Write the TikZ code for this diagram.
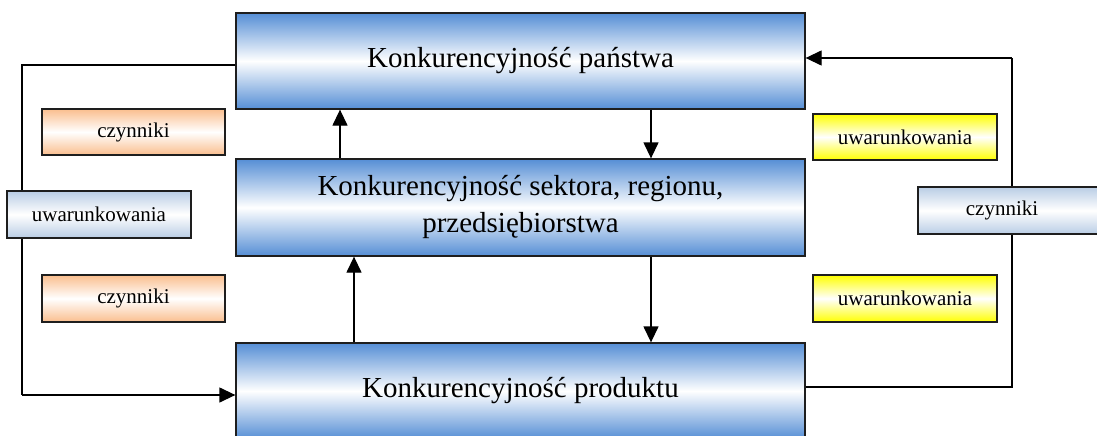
\documentclass[tikz,border=0pt]{standalone}
\usepackage{fontspec}
\setmainfont{Liberation Serif}
\usetikzlibrary{arrows.meta}
\definecolor{boxblue}{RGB}{85,142,213}
\definecolor{paleblue}{RGB}{185,205,229}
\definecolor{peach}{RGB}{250,190,142}
\definecolor{lemon}{RGB}{255,255,0}
\definecolor{edge}{RGB}{30,30,30}
\tikzset{
  mainbox/.style={draw=edge, line width=1.3pt, rectangle, inner sep=0pt,
    minimum width=569pt, minimum height=96pt, align=center,
    font=\fontsize{29}{37}\selectfont,
    top color=boxblue, bottom color=boxblue, middle color=white},
  tagbox/.style={draw=edge, line width=1.3pt, rectangle, inner sep=0pt,
    minimum width=184pt, minimum height=46pt,
    font=\fontsize{21}{25}\selectfont},
  peachbox/.style={tagbox, top color=peach, bottom color=peach, middle color=white},
  lemonbox/.style={tagbox, top color=lemon, bottom color=lemon, middle color=white},
  paleblbox/.style={tagbox, top color=paleblue, bottom color=paleblue, middle color=white},
  link/.style={line width=1.3pt, draw=black},
  flow/.style={link, -{Triangle[length=16pt,width=15pt]}}
}
\begin{document}
\begin{tikzpicture}[x=1pt,y=-1pt]
\useasboundingbox (0,0) rectangle (1097,436);
\clip (0,0) rectangle (1097,436);
\fill[white] (0,0) rectangle (1097,436);

% three levels of competitiveness
\node[mainbox] (panstwo) at (520.5,61) {Konkurencyjność państwa};
\node[mainbox, minimum height=97pt] (sektor) at (520.5,207.5)
  {Konkurencyjność sektora, regionu,\\przedsiębiorstwa};
\node[mainbox] (produkt) at (520.5,391) {Konkurencyjność produktu};

% vertical links between the levels
\coordinate (xa) at (340,0);
\coordinate (xb) at (651,0);
\coordinate (xc) at (354,0);
\draw[flow] (sektor.north -| xa) -- (panstwo.south -| xa);
\draw[flow] (panstwo.south -| xb) -- (sektor.north -| xb);
\draw[flow] (sektor.south -| xb) -- (produkt.north -| xb);
\draw[flow] (produkt.north -| xc) -- (sektor.south -| xc);

% outer feedback loops
\coordinate (lt) at (22,65);
\coordinate (lb) at (22,395);
\coordinate (rb) at (1012,387);
\coordinate (rt) at (1012,58);
\draw[link] (panstwo.west |- lt) -- (lt) -- (lb);
\draw[flow] (lb) -- (produkt.west |- lb);
\draw[link] (produkt.east |- rb) -- (rb) -- (rt);
\draw[flow] (rt) -- (panstwo.east |- rt);

% side labels
\node[peachbox, minimum width=183pt] (czl1) at (133.5,132) {czynniki};
\node[paleblbox, minimum height=47pt] (uwl) at (99,214.5) {uwarunkowania};
\node[peachbox, minimum width=183pt, minimum height=47pt] (czl2) at (133.5,298.5) {czynniki};
\node[lemonbox] (uwr1) at (905,137) {uwarunkowania};
\node[paleblbox, minimum width=192pt, minimum height=47pt] (czr) at (1014,210.5) {};
\node[font=\fontsize{21}{25}\selectfont, inner sep=0pt] (czrt) at (1002,210.5) {czynniki};
\node[lemonbox, minimum height=47pt] (uwr2) at (905,298.5) {uwarunkowania};
\end{tikzpicture}
\end{document}
